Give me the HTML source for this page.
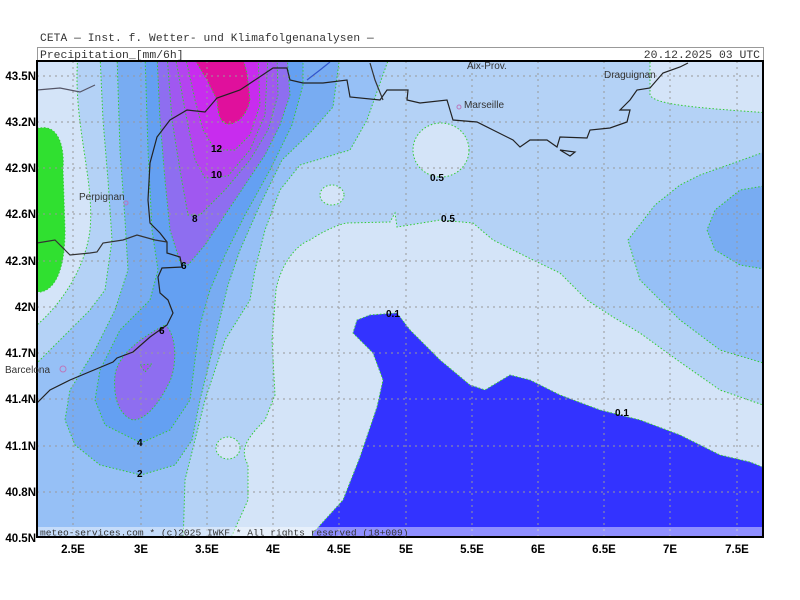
<!DOCTYPE html>
<html><head><meta charset="utf-8"><style>
html,body{margin:0;padding:0;background:#fff;}
svg{display:block;}
.t{font-family:"Liberation Mono",monospace;fill:#333;}
.ax{font-family:"Liberation Sans",sans-serif;font-weight:bold;font-size:11.5px;fill:#000;}
.lb{font-family:"Liberation Sans",sans-serif;font-weight:bold;font-size:10px;fill:#000;}
.city{font-family:"Liberation Sans",sans-serif;font-size:10px;fill:#333;}
</style></head><body>
<svg width="800" height="600" viewBox="0 0 800 600" xmlns="http://www.w3.org/2000/svg">
<rect width="800" height="600" fill="#fff"/>
<text class="t" x="40" y="41" font-size="11.2" style="letter-spacing:0.1px">CETA — Inst. f. Wetter- und Klimafolgenanalysen —</text>
<rect x="37.5" y="47.5" width="726" height="13" fill="#fff" stroke="#999"/>
<text class="t" x="40" y="58" font-size="11.4">Precipitation_[mm/6h]</text>
<text class="t" x="760" y="58" font-size="11.4" text-anchor="end">20.12.2025 03 UTC</text>
<defs><clipPath id="m"><rect x="37" y="61" width="726" height="476"/></clipPath></defs>
<g clip-path="url(#m)">
<rect x="37" y="61" width="726" height="476" fill="#b4d2f6"/>
<g fill="#d4e4f8" stroke="#3c3" stroke-width="1" stroke-dasharray="1.5,2">
<path d="M37,55 L78,55 C72,120 95,180 90,230 C85,270 60,305 37,325 Z"/>
<path d="M230,540 L248,500 L248,465 C240,450 245,440 265,420 L275,395 L272,340 L276,290 C280,267 295,245 310,240 C325,230 340,224 347,223 L390,222 L395,213 L397,227 L440,220 L473,223 L493,240 L533,260 L560,273 L587,300 L613,317 L640,333 L680,362 L720,390 L763,405 L770,540 Z"/>
<ellipse cx="441" cy="150" rx="28" ry="27"/>
<ellipse cx="332" cy="195" rx="12" ry="10"/>
<ellipse cx="228" cy="448" rx="12" ry="11"/>
<path d="M650,55 L650,95 C655,105 700,108 770,113 L770,55 Z"/>
</g>
<g stroke="#3c3" stroke-width="1" stroke-dasharray="1.5,2">
<path fill="#96c0f6" d="M770,150 L700,175 L680,185 L655,205 L628,240 L640,280 L680,320 L720,350 L770,365 Z"/>
<path fill="#78acf2" d="M770,185 L740,190 L715,210 L707,230 L715,250 L740,265 L770,270 Z"/>
<!-- 1-2 -->
<path fill="#96c0f6" d="M100,55 L103,120 L108,180 L112,240 L105,290 L90,310 L50,350 L30,370 L30,545 L183,545 L185,480 L195,440 L205,400 L225,340 L250,300 L255,270 L265,230 L280,190 L300,165 L350,150 L367,120 L390,55 Z"/>
<!-- 2-4 -->
<path fill="#78acf2" d="M117,55 L120,150 L125,220 L128,270 L115,310 L95,350 L70,390 L65,420 L75,445 L100,465 L141,475 L175,465 L192,440 L200,400 L210,360 L222,310 L228,285 L240,250 L260,205 L282,160 L310,133 L333,107 L340,55 Z"/>
<!-- 4-6 -->
<path fill="#64a0f2" d="M145,55 L148,150 L152,230 L158,270 L150,300 L120,330 L100,370 L95,400 L105,425 L141,443 L170,430 L190,400 L195,360 L200,325 L210,290 L225,255 L245,215 L270,170 L292,125 L303,85 L303,55 Z"/>
<!-- 6-8 -->
<path fill="#8e6ef0" d="M157,55 L160,120 L165,180 L170,230 L180,262 L188,265 L205,245 L225,215 L245,185 L265,155 L280,125 L290,95 L287,55 Z"/>
<path fill="#8e6ef0" d="M165,325 C178,335 177,370 168,385 C158,405 145,420 133,420 C118,415 113,395 115,375 C118,355 140,338 165,325 Z"/>
<path fill="#a058f0" d="M140,365 L152,364 L145,372 Z"/>
<!-- 8-10 -->
<path fill="#a058f0" d="M167,55 L172,120 L180,170 L188,215 L200,215 L225,190 L250,160 L268,130 L278,95 L277,55 Z"/>
<!-- 10-12 -->
<path fill="#b444f0" d="M175,55 L185,110 L195,160 L205,178 L228,176 L250,150 L265,115 L268,55 Z"/>
<!-- 12-14 -->
<path fill="#c82cee" d="M185,55 L195,100 L203,130 L215,150 L235,150 L250,135 L260,105 L258,55 Z"/>
<!-- 14+ -->
<path fill="#e0109c" d="M192,55 L207,80 L217,100 C218,118 222,124 228,124 C236,124 246,118 250,100 L247,73 L242,55 Z"/>
<path fill="#30e030" d="M30,128 L40,128 C55,125 65,140 63,170 L65,230 C65,270 55,290 40,292 L30,292 Z"/>
<path fill="#3333ff" d="M397,313 L410,330 L440,360 L470,385 L485,390 L510,375 L530,380 L560,395 L600,410 L640,420 L680,435 L720,455 L750,462 L770,470 L770,545 L310,545 L313,533 L343,500 L360,457 L377,407 L383,380 L373,353 L353,333 L357,320 L370,315 Z"/>
</g>
<g stroke="#999" stroke-width="1" stroke-dasharray="2,4">
<line x1="73" y1="61" x2="73" y2="537"/><line x1="141" y1="61" x2="141" y2="537"/><line x1="207" y1="61" x2="207" y2="537"/><line x1="273" y1="61" x2="273" y2="537"/><line x1="339" y1="61" x2="339" y2="537"/><line x1="406" y1="61" x2="406" y2="537"/><line x1="472" y1="61" x2="472" y2="537"/><line x1="538" y1="61" x2="538" y2="537"/><line x1="604" y1="61" x2="604" y2="537"/><line x1="670" y1="61" x2="670" y2="537"/><line x1="737" y1="61" x2="737" y2="537"/>
<line x1="37" y1="76" x2="763" y2="76"/><line x1="37" y1="122" x2="763" y2="122"/><line x1="37" y1="168" x2="763" y2="168"/><line x1="37" y1="214" x2="763" y2="214"/><line x1="37" y1="261" x2="763" y2="261"/><line x1="37" y1="307" x2="763" y2="307"/><line x1="37" y1="353" x2="763" y2="353"/><line x1="37" y1="399" x2="763" y2="399"/><line x1="37" y1="446" x2="763" y2="446"/><line x1="37" y1="492" x2="763" y2="492"/>
</g>
<g fill="none" stroke="#222" stroke-width="1.2">
<path d="M688,63 L680,67 L663,73 L650,88 L637,90 L630,100 L620,110 L630,110 L627,122 L610,128 L590,130 L587,138 L560,137 L557,147 L547,140 L530,140 L520,147 L513,140 L493,130 L477,122 L453,120 L447,100 L420,103 L407,100 L408,90 L387,90 L380,100 L350,97 L347,80 L323,83 L303,83 L290,80 L287,68 L273,68 L240,90 L217,98 L205,112 L187,110 L170,120 L157,137 L150,163 L148,200 L150,223 L160,233 L167,242 L167,253 L180,257 L182,267 L162,268 L158,277 L160,293 L168,300 L173,313 L167,325 L157,332 L150,337 L133,352 L117,358 L113,362 L70,380 L50,390 L37,403"/>
<path d="M37,243 L55,240 L70,255 L90,253 L97,252 L103,243 L123,240 L137,235 L155,240 L167,242" stroke="#333"/>
<path d="M370,63 L375,80 L383,100" stroke="#333"/>
<path d="M307,80 L320,70 L330,62" stroke="#3355cc"/>
<path d="M560,150 L575,152 L570,156 Z"/>
<path d="M37,90 L60,88 L80,92 L95,85" stroke="#556"/>
</g>
</g>
<rect x="37" y="61" width="726" height="476" fill="none" stroke="#000" stroke-width="2"/>
<rect x="38" y="527" width="724" height="9" fill="#fff" fill-opacity="0.45"/>
<text class="t" x="40" y="535.5" font-size="9.6" fill="#223">meteo-services.com * (c)2025 IWKF * All rights reserved (18+009)</text>
<text class="lb" x="211" y="152">12</text><text class="lb" x="211" y="178">10</text>
<text class="lb" x="192" y="222">8</text><text class="lb" x="181" y="269">6</text>
<text class="lb" x="159" y="334">6</text><text class="lb" x="137" y="446">4</text>
<text class="lb" x="137" y="477">2</text><text class="lb" x="430" y="181">0.5</text>
<text class="lb" x="441" y="222">0.5</text><text class="lb" x="386" y="317">0.1</text>
<text class="lb" x="615" y="416">0.1</text>
<text class="city" x="79" y="200">Perpignan</text>
<circle cx="126" cy="203" r="2" fill="none" stroke="#b7b"/>
<text class="city" x="5" y="373">Barcelona</text>
<circle cx="63" cy="369" r="3" fill="none" stroke="#b7b"/>
<text class="city" x="464" y="108">Marseille</text>
<circle cx="459" cy="107" r="2" fill="none" stroke="#b7b"/>
<text class="city" x="467" y="69">Aix-Prov.</text>
<text class="city" x="604" y="78" font-size="8">Draguignan</text>
<g class="ax" text-anchor="end">
<text x="36" y="80">43.5N</text><text x="36" y="126">43.2N</text><text x="36" y="172">42.9N</text><text x="36" y="218">42.6N</text><text x="36" y="265">42.3N</text><text x="36" y="311">42N</text><text x="36" y="357">41.7N</text><text x="36" y="403">41.4N</text><text x="36" y="450">41.1N</text><text x="36" y="496">40.8N</text><text x="36" y="542">40.5N</text>
</g>
<g class="ax" text-anchor="middle">
<text x="73" y="553">2.5E</text><text x="141" y="553">3E</text><text x="207" y="553">3.5E</text><text x="273" y="553">4E</text><text x="339" y="553">4.5E</text><text x="406" y="553">5E</text><text x="472" y="553">5.5E</text><text x="538" y="553">6E</text><text x="604" y="553">6.5E</text><text x="670" y="553">7E</text><text x="737" y="553">7.5E</text>
</g>
</svg>
</body></html>
